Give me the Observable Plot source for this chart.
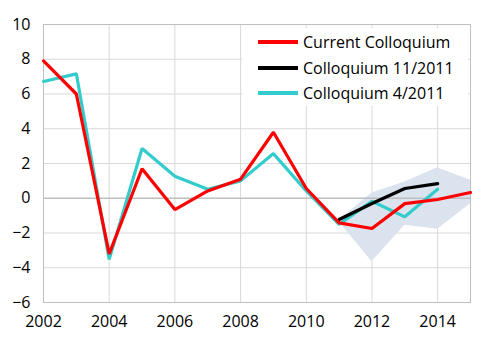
<!DOCTYPE html>
<html>
<head>
<meta charset="utf-8">
<script src="https://cdn.jsdelivr.net/npm/d3@7"></script>
<script src="https://cdn.jsdelivr.net/npm/@observablehq/plot@0.6"></script>
<style>
  body { margin: 0; background: #fff; }
  #wrap { position: relative; width: 500px; height: 353px; font-family: "Open Sans", sans-serif; }
  #legend { position: absolute; left: 242px; top: 28px; width: 226px; height: 78px; background: #fff; }
  .row { position: absolute; left: 16px; height: 24px; display: flex; align-items: center; font-size: 16px; color: #000; white-space: nowrap; }
  .sw { width: 40px; height: 0; border-top: 4px solid; margin-right: 5px; }
</style>
</head>
<body>
<div id="wrap"></div>
<script>
const years = [2002, 2003, 2004, 2005, 2006, 2007, 2008, 2009, 2010, 2011, 2012, 2013, 2014, 2015];
const currentColloquium = [7.9, 6.0, -3.2, 1.7, -0.65, 0.42, 1.1, 3.8, 0.56, -1.42, -1.74, -0.31, -0.07, 0.33];
const years1111 = [2011, 2012, 2013, 2014];
const colloquium1111 = [-1.22, -0.3, 0.56, 0.84];
const years0411 = [2002, 2003, 2004, 2005, 2006, 2007, 2008, 2009, 2010, 2011, 2012, 2013, 2014];
const colloquium0411 = [6.72, 7.16, -3.52, 2.86, 1.27, 0.52, 1.0, 2.57, 0.42, -1.5, -0.17, -1.07, 0.52];
const bandYears = [2011, 2012, 2013, 2014, 2015];
const bandLower = [-1.36, -3.66, -1.55, -1.78, -0.31];
const bandUpper = [-1.26, 0.3, 0.94, 1.76, 1.03];
const xTicks = [2002, 2004, 2006, 2008, 2010, 2012, 2014];
const yTicks = [-6, -4, -2, 0, 2, 4, 6, 8, 10];
const seriesNames = ["Current Colloquium", "Colloquium 11/2011", "Colloquium 4/2011"];
const seriesColors = ["#ff0000", "#000000", "#33cccc"];

const cur = years.map((x, i) => ({x, y: currentColloquium[i]}));
const c1111 = years1111.map((x, i) => ({x, y: colloquium1111[i]}));
const c0411 = years0411.map((x, i) => ({x, y: colloquium0411[i]}));
const band = bandYears.map((x, i) => ({x, lo: bandLower[i], hi: bandUpper[i]}));

const chart = Plot.plot({
  width: 500,
  height: 353,
  marginLeft: 43,
  marginRight: 30,
  marginTop: 24,
  marginBottom: 51,
  style: {fontFamily: "Open Sans, sans-serif", fontSize: "16px", color: "#000", background: "#fff"},
  x: {domain: [2002, 2015], ticks: xTicks, tickFormat: d => String(d), tickSize: 0, tickPadding: 13, label: null},
  y: {domain: [-6, 10], ticks: yTicks, tickSize: 0, tickPadding: 13, label: null},
  marks: [
    Plot.gridX(xTicks, {stroke: "#d9d9d9", strokeOpacity: 1}),
    Plot.gridY(yTicks.filter(d => d !== 0), {stroke: "#d9d9d9", strokeOpacity: 1}),
    Plot.areaY(band, {x: "x", y1: "lo", y2: "hi", fill: "#dae3ee", curve: "linear"}),
    Plot.ruleY([0], {stroke: "#bfbfbf", strokeWidth: 1.5}),
    Plot.frame({stroke: "#bfbfbf"}),
    Plot.axisX({ticks: xTicks, tickSize: 0, tickPadding: 13, tickFormat: d => String(d)}),
    Plot.axisY({ticks: yTicks, tickSize: 0, tickPadding: 13}),
    Plot.line(c0411, {x: "x", y: "y", stroke: seriesColors[2], strokeWidth: 3.2, strokeLinejoin: "miter"}),
    Plot.line(c1111, {x: "x", y: "y", stroke: seriesColors[1], strokeWidth: 3.2, strokeLinejoin: "miter"}),
    Plot.line(cur, {x: "x", y: "y", stroke: seriesColors[0], strokeWidth: 3.2, strokeLinejoin: "miter"})
  ]
});

const wrap = document.getElementById("wrap");
wrap.appendChild(chart);
const legend = document.createElement("div");
legend.id = "legend";
seriesNames.forEach((name, i) => {
  const row = document.createElement("div");
  row.className = "row";
  row.style.top = (2 + i * 25.5) + "px";
  const sw = document.createElement("span");
  sw.className = "sw";
  sw.style.borderColor = seriesColors[i];
  const t = document.createElement("span");
  t.textContent = name;
  row.appendChild(sw);
  row.appendChild(t);
  legend.appendChild(row);
});
wrap.appendChild(legend);
</script>
</body>
</html>
